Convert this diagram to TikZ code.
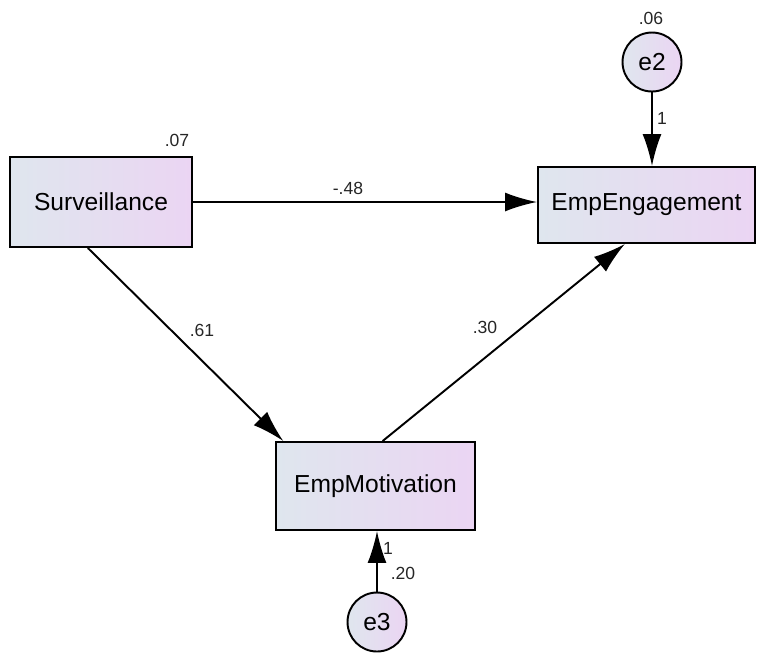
\documentclass[tikz,border=0pt]{standalone}
\usepackage{fontspec}
\setmainfont{Liberation Sans}
\usetikzlibrary{arrows.meta}
\begin{document}
\begin{tikzpicture}[x=0.02cm,y=-0.02cm,
  var/.style={draw,line width=1.1pt,rectangle,inner sep=0pt,font=\fontsize{14}{16}\selectfont,
    left color=varL,right color=varR},
  err/.style={draw,line width=1.1pt,circle,inner sep=0pt,minimum size=1.18cm,
    font=\fontsize{14}{16}\selectfont,left color=varL,right color=varR},
  path/.style={line width=1.1pt,-{Latex[length=0.64cm,width=0.38cm]}},
  est/.style={font=\fontsize{10}{12}\selectfont,text=black!85}]
\definecolor{varL}{HTML}{DFE6EE}
\definecolor{varR}{HTML}{EBD5F3}
\useasboundingbox (0,0) rectangle (758,654);
% observed variables
\node[var,minimum width=3.64cm,minimum height=1.8cm] (sur) at (101,202) {Surveillance};
\node[var,minimum width=4.34cm,minimum height=1.52cm] (eng) at (646.5,205) {EmpEngagement};
\node[var,minimum width=3.98cm,minimum height=1.76cm] (mot) at (375.5,486) {EmpMotivation};
% error terms
\node[err] (e2) at (652,62) {e2};
\node[err] (e3) at (377,622) {e3};
% paths
\draw[path] (sur.east) -- (sur.east -| eng.west);
\draw[path] (sur.-106) -- (mot.154.6);
\draw[path] (mot.81.6) -- (eng.-119.5);
\draw[path] (e2) -- (e2 |- eng.north);
\draw[path] (e3) -- (e3 |- mot.south);
% estimates
\node[est] (r2sur) at (177,140) {.07};
\node[est] (r2e2) at (651,18) {.06};
\node[est] (bse) at (348,188) {-.48};
\node[est] (bsm) at (202,330) {.61};
\node[est] (bme) at (485,327) {.30};
\node[est] (w2) at (662,118) {1};
\node[est] (w3) at (388,548) {1};
\node[est] (r2e3) at (403,573) {.20};
\end{tikzpicture}
\end{document}
